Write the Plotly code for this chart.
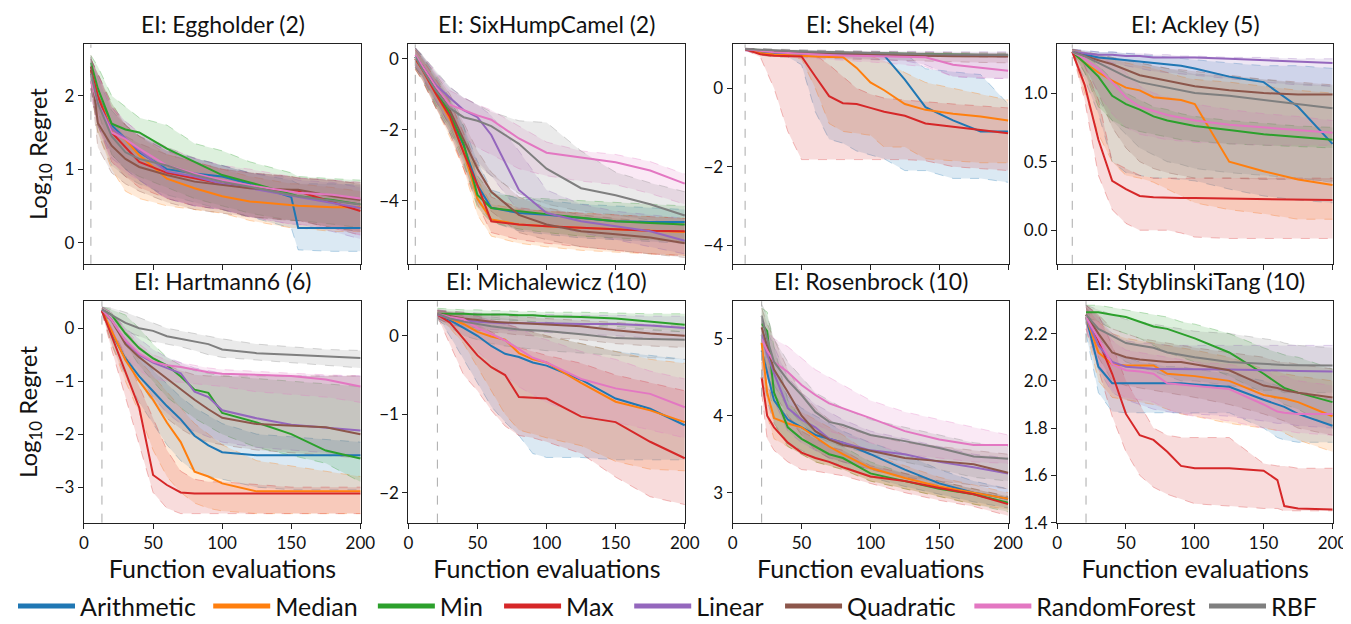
import plotly.graph_objects as go

SERIES = ["Arithmetic", "Median", "Min", "Max", "Linear", "Quadratic", "RandomForest", "RBF"]
COLORS = ["#1f77b4", "#ff7f0e", "#2ca02c", "#d62728", "#9467bd", "#8c564b", "#e377c2", "#7f7f7f"]

TITLES = ["EI: Eggholder (2)", "EI: SixHumpCamel (2)", "EI: Shekel (4)", "EI: Ackley (5)",
          "EI: Hartmann6 (6)", "EI: Michalewicz (10)", "EI: Rosenbrock (10)", "EI: StyblinskiTang (10)"]
INIT = [5, 5, 9, 11, 13, 21, 21, 21]
YRANGES = [[-0.29, 2.70], [-5.78, 0.40], [-4.48, 1.12], [-0.245, 1.355],
           [-3.67, 0.51], [-2.38, 0.44], [2.61, 5.49], [1.40, 2.337]]
YTICKS = [[0, 1, 2], [-4, -2, 0], [-4, -2, 0], [0.0, 0.5, 1.0],
          [-3, -2, -1, 0], [-2, -1, 0], [3, 4, 5], [1.4, 1.6, 1.8, 2.0, 2.2]]
XTICKS = [0, 50, 100, 150, 200]

# ---------------- Eggholder (2) ----------------
egg_x = [5, 10, 20, 30, 40, 60, 80, 100, 120, 150, 155, 180, 200]
egg_mid = [
    [2.30, 2.00, 1.60, 1.41, 1.23, 1.00, 0.94, 0.90, 0.80, 0.62, 0.20, 0.20, 0.20],
    [2.35, 2.00, 1.55, 1.40, 1.19, 0.87, 0.74, 0.63, 0.56, 0.50, 0.50, 0.48, 0.48],
    [2.45, 2.10, 1.62, 1.54, 1.50, 1.28, 1.10, 0.92, 0.82, 0.65, 0.63, 0.58, 0.52],
    [2.35, 2.00, 1.50, 1.30, 1.10, 0.95, 0.87, 0.80, 0.75, 0.70, 0.70, 0.55, 0.43],
    [2.30, 1.90, 1.55, 1.42, 1.25, 0.97, 0.90, 0.80, 0.74, 0.64, 0.62, 0.54, 0.47],
    [2.40, 1.63, 1.32, 1.14, 1.03, 0.92, 0.83, 0.79, 0.74, 0.72, 0.72, 0.63, 0.58],
    [2.20, 1.90, 1.50, 1.41, 1.28, 1.05, 0.94, 0.85, 0.78, 0.70, 0.68, 0.65, 0.60],
    [2.30, 1.90, 1.45, 1.23, 1.14, 1.05, 0.92, 0.83, 0.76, 0.65, 0.63, 0.57, 0.52],
]
egg_lo = [
    [2.10, 1.60, 1.20, 1.00, 0.85, 0.60, 0.50, 0.45, 0.35, 0.20, -0.10, -0.12, -0.12],
    [2.10, 1.50, 1.00, 0.70, 0.60, 0.50, 0.45, 0.40, 0.30, 0.20, 0.20, 0.15, 0.15],
    [2.20, 1.80, 1.20, 1.00, 0.90, 0.75, 0.60, 0.50, 0.40, 0.30, 0.30, 0.25, 0.20],
    [2.10, 1.60, 1.10, 0.90, 0.75, 0.60, 0.50, 0.45, 0.35, 0.30, 0.30, 0.20, 0.15],
    [2.10, 1.60, 1.15, 1.00, 0.85, 0.60, 0.50, 0.45, 0.35, 0.25, 0.25, 0.15, 0.05],
    [2.20, 1.30, 0.95, 0.80, 0.70, 0.55, 0.45, 0.40, 0.35, 0.30, 0.30, 0.20, 0.10],
    [2.00, 1.60, 1.10, 0.95, 0.85, 0.60, 0.50, 0.45, 0.35, 0.25, 0.25, 0.20, 0.10],
    [2.10, 1.50, 1.05, 0.90, 0.80, 0.65, 0.55, 0.45, 0.35, 0.30, 0.30, 0.20, 0.15],
]
egg_hi = [
    [2.50, 2.30, 1.90, 1.60, 1.45, 1.25, 1.15, 1.05, 0.95, 0.85, 0.80, 0.80, 0.78],
    [2.50, 2.30, 1.90, 1.60, 1.45, 1.20, 1.10, 1.00, 0.90, 0.80, 0.80, 0.75, 0.70],
    [2.55, 2.40, 2.00, 1.85, 1.70, 1.60, 1.35, 1.25, 1.10, 0.95, 0.90, 0.87, 0.85],
    [2.50, 2.30, 1.85, 1.60, 1.45, 1.25, 1.10, 1.00, 0.95, 0.90, 0.88, 0.85, 0.80],
    [2.50, 2.30, 1.85, 1.65, 1.50, 1.25, 1.15, 1.05, 0.95, 0.88, 0.85, 0.82, 0.75],
    [2.55, 2.00, 1.65, 1.45, 1.35, 1.20, 1.10, 1.00, 0.95, 0.90, 0.88, 0.85, 0.82],
    [2.45, 2.30, 1.85, 1.65, 1.50, 1.30, 1.15, 1.05, 1.00, 0.90, 0.88, 0.85, 0.82],
    [2.50, 2.25, 1.80, 1.60, 1.45, 1.30, 1.15, 1.05, 0.95, 0.90, 0.88, 0.85, 0.80],
]

# ---------------- SixHumpCamel (2) ----------------
six_x = [5, 10, 20, 30, 40, 50, 60, 80, 100, 125, 150, 175, 200]
six_mid = [
    [0.05, -0.25, -0.95, -1.63, -2.46, -3.57, -4.20, -4.35, -4.40, -4.50, -4.58, -4.60, -4.60],
    [0.00, -0.30, -1.00, -1.70, -2.60, -3.94, -4.53, -4.67, -4.72, -4.77, -4.80, -4.85, -4.88],
    [0.05, -0.20, -0.90, -1.55, -2.40, -3.84, -4.21, -4.30, -4.38, -4.48, -4.58, -4.63, -4.67],
    [0.00, -0.30, -1.00, -1.63, -2.65, -3.57, -4.58, -4.67, -4.72, -4.76, -4.80, -4.85, -4.86],
    [0.05, -0.20, -0.75, -1.10, -1.45, -1.65, -2.15, -3.70, -4.35, -4.58, -4.72, -4.86, -5.13],
    [0.05, -0.20, -0.80, -1.45, -2.28, -3.10, -3.75, -4.40, -4.67, -4.86, -4.95, -5.04, -5.20],
    [0.10, -0.20, -0.80, -1.30, -1.45, -1.60, -1.72, -2.25, -2.65, -2.78, -2.92, -3.15, -3.52],
    [0.05, -0.30, -0.90, -1.40, -1.65, -1.75, -1.90, -2.40, -3.10, -3.65, -3.85, -4.10, -4.42],
]
six_lo = [
    [-0.25, -0.55, -1.35, -2.10, -3.00, -4.00, -4.60, -4.85, -4.95, -5.05, -5.10, -5.15, -5.20],
    [-0.30, -0.60, -1.40, -2.20, -3.10, -4.40, -5.00, -5.20, -5.30, -5.40, -5.45, -5.50, -5.55],
    [-0.25, -0.50, -1.30, -2.00, -2.90, -4.20, -4.60, -4.80, -4.90, -5.00, -5.05, -5.10, -5.15],
    [-0.30, -0.60, -1.40, -2.10, -3.10, -4.10, -4.90, -5.10, -5.20, -5.30, -5.40, -5.50, -5.55],
    [-0.20, -0.50, -1.20, -1.90, -2.40, -2.90, -3.30, -4.30, -4.70, -4.90, -5.10, -5.30, -5.50],
    [-0.25, -0.50, -1.20, -1.90, -2.80, -3.70, -4.30, -4.90, -5.10, -5.30, -5.40, -5.50, -5.60],
    [-0.20, -0.50, -1.20, -1.80, -2.20, -2.50, -2.70, -3.10, -3.30, -3.45, -3.55, -3.80, -4.10],
    [-0.30, -0.60, -1.40, -2.10, -2.60, -3.00, -3.30, -3.80, -4.10, -4.30, -4.40, -4.55, -4.70],
]
six_hi = [
    [0.30, 0.05, -0.55, -1.15, -1.90, -2.90, -3.70, -3.95, -4.00, -4.10, -4.15, -4.20, -4.25],
    [0.25, 0.00, -0.60, -1.20, -2.10, -3.40, -4.10, -4.25, -4.30, -4.35, -4.40, -4.45, -4.50],
    [0.30, 0.10, -0.50, -1.10, -1.90, -3.30, -3.80, -3.90, -3.95, -4.00, -4.05, -4.10, -4.15],
    [0.25, 0.00, -0.60, -1.20, -2.10, -3.00, -3.90, -4.20, -4.30, -4.35, -4.40, -4.45, -4.50],
    [0.30, 0.10, -0.40, -0.80, -1.10, -1.30, -1.60, -2.60, -3.70, -4.10, -4.30, -4.40, -4.50],
    [0.30, 0.05, -0.45, -1.00, -1.80, -2.60, -3.20, -3.90, -4.20, -4.40, -4.50, -4.60, -4.70],
    [0.30, 0.10, -0.40, -0.90, -1.10, -1.30, -1.45, -1.90, -2.35, -2.60, -2.70, -2.90, -3.25],
    [0.30, 0.10, -0.35, -0.80, -1.10, -1.30, -1.50, -1.75, -1.80, -2.60, -3.20, -3.50, -3.75],
]

# ---------------- Shekel (4) ----------------
she_x = [9, 20, 30, 40, 50, 60, 70, 80, 90, 100, 110, 125, 140, 160, 180, 200]
she_mid = [
    [1.00, 0.92, 0.90, 0.89, 0.88, 0.87, 0.86, 0.86, 0.86, 0.86, 0.84, 0.22, -0.48, -0.82, -1.10, -1.10],
    [1.00, 0.90, 0.86, 0.84, 0.82, 0.81, 0.80, 0.80, 0.52, 0.15, -0.05, -0.40, -0.55, -0.65, -0.72, -0.82],
    [1.00, 0.97, 0.95, 0.94, 0.93, 0.92, 0.91, 0.90, 0.90, 0.89, 0.89, 0.88, 0.87, 0.86, 0.85, 0.85],
    [1.00, 0.87, 0.83, 0.82, 0.81, 0.30, -0.20, -0.38, -0.40, -0.50, -0.60, -0.70, -0.90, -0.98, -1.07, -1.15],
    [1.00, 0.96, 0.94, 0.93, 0.92, 0.91, 0.90, 0.89, 0.88, 0.88, 0.87, 0.86, 0.85, 0.84, 0.83, 0.82],
    [1.00, 0.96, 0.94, 0.92, 0.91, 0.90, 0.89, 0.88, 0.87, 0.86, 0.85, 0.84, 0.83, 0.82, 0.82, 0.81],
    [1.00, 0.95, 0.92, 0.90, 0.88, 0.86, 0.85, 0.84, 0.83, 0.82, 0.81, 0.80, 0.79, 0.60, 0.52, 0.45],
    [1.00, 0.98, 0.96, 0.95, 0.94, 0.93, 0.92, 0.91, 0.90, 0.90, 0.89, 0.88, 0.87, 0.86, 0.86, 0.85],
]
she_lo = [
    [0.98, 0.85, 0.80, 0.80, 0.60, -0.60, -1.30, -1.40, -1.60, -1.70, -1.80, -2.10, -2.10, -2.30, -2.30, -2.40],
    [0.98, 0.85, 0.80, 0.80, 0.75, 0.00, -0.90, -1.10, -1.15, -1.20, -1.50, -1.50, -1.80, -1.85, -1.90, -1.90],
    [0.98, 0.93, 0.90, 0.89, 0.88, 0.87, 0.86, 0.85, 0.85, 0.84, 0.84, 0.83, 0.82, 0.81, 0.80, 0.80],
    [0.98, 0.80, 0.00, -1.10, -1.82, -1.82, -1.82, -1.82, -1.82, -1.82, -1.82, -1.82, -1.85, -2.00, -2.05, -2.10],
    [0.95, 0.90, 0.88, 0.86, 0.84, 0.82, 0.80, 0.78, 0.76, 0.74, 0.72, 0.70, 0.60, 0.30, 0.25, 0.25],
    [0.97, 0.90, 0.85, 0.82, 0.80, 0.78, 0.76, 0.75, 0.74, 0.73, 0.72, 0.71, 0.70, 0.68, 0.66, 0.65],
    [0.95, 0.88, 0.84, 0.80, 0.78, 0.76, 0.74, 0.72, 0.70, 0.68, 0.65, 0.60, 0.55, 0.30, 0.28, 0.25],
    [0.98, 0.95, 0.93, 0.92, 0.91, 0.90, 0.89, 0.88, 0.87, 0.86, 0.85, 0.84, 0.83, 0.82, 0.81, 0.80],
]
she_hi = [
    [1.02, 0.96, 0.95, 0.94, 0.93, 0.92, 0.92, 0.91, 0.90, 0.90, 0.90, 0.88, 0.50, 0.42, 0.35, -0.40],
    [1.02, 0.95, 0.92, 0.90, 0.90, 0.90, 0.90, 0.88, 0.85, 0.82, 0.70, 0.40, 0.15, 0.00, -0.15, -0.30],
    [1.02, 1.00, 0.98, 0.97, 0.96, 0.95, 0.94, 0.93, 0.93, 0.92, 0.92, 0.91, 0.90, 0.89, 0.88, 0.88],
    [1.02, 0.92, 0.90, 0.88, 0.87, 0.85, 0.60, 0.30, 0.00, -0.15, -0.25, -0.30, -0.35, -0.40, -0.45, -0.50],
    [1.02, 1.00, 0.99, 0.98, 0.97, 0.96, 0.96, 0.95, 0.95, 0.95, 0.95, 0.94, 0.94, 0.93, 0.93, 0.93],
    [1.02, 1.00, 0.98, 0.97, 0.96, 0.95, 0.95, 0.94, 0.94, 0.93, 0.93, 0.92, 0.92, 0.91, 0.91, 0.90],
    [1.02, 0.98, 0.96, 0.95, 0.94, 0.93, 0.92, 0.91, 0.90, 0.90, 0.90, 0.89, 0.88, 0.85, 0.80, 0.80],
    [1.02, 1.01, 1.00, 0.99, 0.98, 0.97, 0.96, 0.95, 0.95, 0.94, 0.93, 0.92, 0.91, 0.90, 0.90, 0.90],
]

# ---------------- Ackley (5) ----------------
ack_x = [11, 20, 30, 40, 50, 60, 70, 80, 90, 100, 125, 150, 175, 200]
ack_mid = [
    [1.30, 1.28, 1.26, 1.25, 1.24, 1.23, 1.22, 1.21, 1.20, 1.18, 1.12, 1.08, 0.90, 0.63],
    [1.30, 1.22, 1.15, 1.09, 1.04, 1.02, 0.97, 0.96, 0.95, 0.92, 0.50, 0.43, 0.37, 0.33],
    [1.30, 1.22, 1.12, 0.98, 0.92, 0.88, 0.83, 0.80, 0.78, 0.76, 0.73, 0.70, 0.68, 0.66],
    [1.30, 1.06, 0.66, 0.36, 0.30, 0.25, 0.24, 0.235, 0.235, 0.235, 0.23, 0.225, 0.22, 0.22],
    [1.30, 1.29, 1.28, 1.28, 1.27, 1.27, 1.26, 1.26, 1.26, 1.26, 1.25, 1.24, 1.23, 1.22],
    [1.30, 1.27, 1.24, 1.21, 1.17, 1.13, 1.11, 1.09, 1.07, 1.05, 1.02, 1.00, 0.99, 0.99],
    [1.30, 1.25, 1.18, 1.08, 0.97, 0.90, 0.87, 0.84, 0.82, 0.80, 0.77, 0.75, 0.73, 0.71],
    [1.30, 1.27, 1.22, 1.17, 1.12, 1.08, 1.06, 1.04, 1.02, 1.00, 0.98, 0.95, 0.92, 0.89],
]
ack_lo = [
    [1.30, 1.10, 0.85, 0.50, 0.42, 0.40, 0.38, 0.38, 0.37, 0.36, 0.30, 0.25, 0.22, 0.20],
    [1.30, 1.00, 0.70, 0.50, 0.40, 0.38, 0.35, 0.30, 0.25, 0.20, 0.15, 0.12, 0.08, 0.08],
    [1.30, 1.15, 0.90, 0.80, 0.75, 0.72, 0.70, 0.68, 0.66, 0.65, 0.63, 0.62, 0.61, 0.60],
    [1.30, 0.95, 0.40, 0.15, 0.05, 0.00, 0.00, 0.00, -0.02, -0.05, -0.06, -0.06, -0.06, -0.06],
    [1.30, 1.27, 1.25, 1.22, 1.20, 1.18, 1.16, 1.15, 1.14, 1.13, 1.10, 1.08, 1.06, 1.05],
    [1.30, 1.20, 1.00, 0.75, 0.60, 0.50, 0.45, 0.42, 0.40, 0.38, 0.38, 0.37, 0.37, 0.36],
    [1.30, 1.20, 1.00, 0.85, 0.75, 0.70, 0.68, 0.66, 0.65, 0.64, 0.63, 0.62, 0.62, 0.62],
    [1.30, 1.15, 0.95, 0.80, 0.70, 0.60, 0.55, 0.50, 0.48, 0.45, 0.42, 0.40, 0.38, 0.35],
]
ack_hi = [
    [1.32, 1.31, 1.30, 1.30, 1.29, 1.28, 1.27, 1.26, 1.25, 1.24, 1.22, 1.20, 1.20, 1.18],
    [1.32, 1.30, 1.28, 1.25, 1.22, 1.20, 1.18, 1.15, 1.12, 1.10, 1.08, 1.05, 1.02, 1.00],
    [1.32, 1.28, 1.20, 1.10, 1.00, 0.95, 0.90, 0.88, 0.85, 0.83, 0.80, 0.78, 0.76, 0.75],
    [1.32, 1.20, 0.95, 0.50, 0.45, 0.40, 0.38, 0.38, 0.38, 0.38, 0.38, 0.38, 0.38, 0.38],
    [1.32, 1.31, 1.30, 1.30, 1.29, 1.29, 1.28, 1.28, 1.27, 1.27, 1.26, 1.26, 1.25, 1.25],
    [1.32, 1.30, 1.28, 1.26, 1.24, 1.22, 1.20, 1.18, 1.17, 1.16, 1.13, 1.10, 1.08, 1.06],
    [1.32, 1.30, 1.27, 1.22, 1.15, 1.05, 1.00, 0.97, 0.95, 0.92, 0.88, 0.85, 0.83, 0.80],
    [1.32, 1.30, 1.28, 1.26, 1.24, 1.22, 1.20, 1.18, 1.16, 1.14, 1.12, 1.10, 1.07, 1.05],
]

# ---------------- Hartmann6 (6) ----------------
har_x = [13, 20, 30, 40, 50, 60, 70, 80, 90, 100, 125, 150, 175, 200]
har_mid = [
    [0.33, -0.10, -0.57, -0.91, -1.19, -1.47, -1.72, -2.03, -2.21, -2.34, -2.40, -2.40, -2.40, -2.40],
    [0.33, -0.05, -0.60, -1.00, -1.35, -1.78, -2.15, -2.71, -2.80, -2.93, -3.08, -3.08, -3.08, -3.08],
    [0.35, 0.25, -0.10, -0.38, -0.57, -0.70, -0.91, -1.16, -1.22, -1.60, -1.78, -2.00, -2.31, -2.46],
    [0.33, -0.15, -0.80, -1.50, -2.77, -2.96, -3.10, -3.12, -3.12, -3.12, -3.12, -3.12, -3.12, -3.12],
    [0.35, 0.15, -0.25, -0.50, -0.65, -0.75, -0.85, -1.20, -1.30, -1.55, -1.70, -1.82, -1.87, -1.93],
    [0.35, 0.15, -0.30, -0.55, -0.75, -0.95, -1.16, -1.35, -1.53, -1.69, -1.81, -1.84, -1.87, -2.00],
    [0.35, 0.15, -0.23, -0.48, -0.63, -0.70, -0.73, -0.78, -0.83, -0.86, -0.88, -0.90, -0.97, -1.10],
    [0.35, 0.25, 0.10, 0.00, -0.05, -0.15, -0.20, -0.25, -0.30, -0.40, -0.47, -0.50, -0.53, -0.56],
]
har_lo = [
    [0.30, -0.30, -0.90, -1.40, -1.80, -2.20, -2.50, -2.70, -2.80, -2.85, -3.00, -3.05, -3.05, -3.05],
    [0.30, -0.30, -1.00, -1.60, -2.30, -2.80, -3.10, -3.30, -3.40, -3.45, -3.50, -3.50, -3.50, -3.50],
    [0.30, 0.10, -0.30, -0.70, -1.00, -1.30, -1.50, -1.70, -1.85, -2.00, -2.25, -2.40, -2.55, -2.90],
    [0.30, -0.40, -1.30, -2.20, -3.10, -3.40, -3.50, -3.50, -3.50, -3.50, -3.50, -3.50, -3.50, -3.50],
    [0.30, -0.10, -0.50, -0.90, -1.30, -1.60, -1.80, -1.95, -2.05, -2.15, -2.25, -2.30, -2.35, -2.40],
    [0.30, -0.10, -0.60, -1.00, -1.40, -1.70, -1.90, -2.05, -2.15, -2.20, -2.30, -2.35, -2.40, -2.45],
    [0.30, 0.00, -0.50, -0.80, -0.95, -1.00, -1.02, -1.05, -1.08, -1.10, -1.20, -1.25, -1.30, -1.40],
    [0.30, 0.10, -0.05, -0.15, -0.25, -0.30, -0.35, -0.42, -0.50, -0.55, -0.60, -0.65, -0.70, -0.75],
]
har_hi = [
    [0.38, 0.15, -0.20, -0.50, -0.80, -1.05, -1.30, -1.50, -1.65, -1.80, -2.00, -2.05, -2.10, -2.15],
    [0.38, 0.10, -0.30, -0.60, -0.90, -1.20, -1.50, -1.80, -2.00, -2.20, -2.50, -2.60, -2.70, -2.80],
    [0.40, 0.35, 0.25, 0.00, -0.30, -0.55, -0.70, -0.80, -0.85, -0.90, -0.95, -1.00, -1.05, -1.10],
    [0.38, 0.00, -0.50, -1.10, -1.70, -2.30, -2.70, -2.85, -2.90, -2.90, -2.95, -3.00, -3.00, -3.00],
    [0.40, 0.30, 0.00, -0.20, -0.40, -0.55, -0.65, -0.75, -0.80, -0.85, -0.88, -0.90, -0.90, -0.90],
    [0.40, 0.30, -0.05, -0.35, -0.55, -0.70, -0.80, -0.88, -0.90, -0.90, -0.90, -0.90, -0.90, -0.90],
    [0.40, 0.30, 0.00, -0.30, -0.50, -0.60, -0.65, -0.70, -0.75, -0.78, -0.82, -0.85, -0.88, -0.90],
    [0.40, 0.38, 0.30, 0.20, 0.10, 0.00, -0.05, -0.10, -0.15, -0.20, -0.30, -0.35, -0.40, -0.42],
]

# ---------------- Michalewicz (10) ----------------
mic_x = [21, 30, 40, 50, 60, 70, 80, 90, 100, 125, 150, 175, 200]
mic_mid = [
    [0.28, 0.20, 0.10, 0.00, -0.13, -0.23, -0.27, -0.34, -0.38, -0.56, -0.80, -0.93, -1.14],
    [0.28, 0.22, 0.15, 0.05, -0.01, -0.05, -0.22, -0.30, -0.34, -0.60, -0.84, -0.95, -1.10],
    [0.28, 0.28, 0.28, 0.27, 0.27, 0.27, 0.26, 0.26, 0.25, 0.24, 0.22, 0.18, 0.14],
    [0.27, 0.17, -0.04, -0.25, -0.40, -0.50, -0.78, -0.79, -0.80, -1.03, -1.10, -1.35, -1.56],
    [0.27, 0.22, 0.20, 0.18, 0.17, 0.16, 0.16, 0.16, 0.16, 0.15, 0.15, 0.13, 0.10],
    [0.28, 0.25, 0.22, 0.20, 0.18, 0.17, 0.16, 0.15, 0.14, 0.12, 0.07, 0.03, 0.00],
    [0.28, 0.24, 0.21, 0.10, 0.02, -0.06, -0.17, -0.28, -0.34, -0.55, -0.67, -0.74, -0.91],
    [0.28, 0.22, 0.18, 0.15, 0.12, 0.10, 0.08, 0.07, 0.06, 0.02, -0.03, -0.04, -0.05],
]
mic_lo = [
    [0.25, 0.00, -0.30, -0.60, -0.90, -1.10, -1.27, -1.50, -1.55, -1.55, -1.58, -1.58, -1.58],
    [0.25, 0.10, -0.10, -0.40, -0.70, -1.00, -1.20, -1.25, -1.30, -1.40, -1.60, -1.70, -1.72],
    [0.25, 0.24, 0.23, 0.22, 0.21, 0.20, 0.19, 0.18, 0.17, 0.15, 0.12, 0.08, 0.05],
    [0.25, -0.10, -0.50, -0.70, -0.95, -1.15, -1.27, -1.30, -1.35, -1.50, -1.80, -2.05, -2.15],
    [0.22, 0.15, 0.12, 0.10, 0.08, 0.07, 0.06, 0.05, 0.04, 0.02, 0.00, -0.03, -0.05],
    [0.22, 0.15, 0.10, 0.07, 0.05, 0.03, 0.01, 0.00, -0.02, -0.05, -0.10, -0.13, -0.15],
    [0.25, 0.15, 0.00, -0.20, -0.35, -0.50, -0.65, -0.75, -0.85, -1.00, -1.10, -1.20, -1.30],
    [0.20, 0.10, 0.00, -0.05, -0.10, -0.13, -0.15, -0.17, -0.19, -0.22, -0.25, -0.28, -0.30],
]
mic_hi = [
    [0.32, 0.30, 0.28, 0.25, 0.20, 0.15, 0.10, 0.05, 0.00, -0.10, -0.20, -0.25, -0.30],
    [0.32, 0.30, 0.28, 0.25, 0.20, 0.15, 0.10, 0.05, 0.00, -0.10, -0.20, -0.30, -0.35],
    [0.35, 0.34, 0.33, 0.33, 0.32, 0.32, 0.31, 0.31, 0.30, 0.30, 0.29, 0.28, 0.28],
    [0.32, 0.30, 0.25, 0.15, 0.05, -0.05, -0.15, -0.20, -0.25, -0.35, -0.50, -0.60, -0.70],
    [0.33, 0.31, 0.30, 0.29, 0.28, 0.28, 0.27, 0.27, 0.27, 0.26, 0.26, 0.25, 0.25],
    [0.33, 0.32, 0.30, 0.28, 0.26, 0.25, 0.24, 0.23, 0.22, 0.20, 0.17, 0.14, 0.12],
    [0.32, 0.30, 0.28, 0.25, 0.20, 0.15, 0.10, 0.00, -0.05, -0.20, -0.30, -0.45, -0.55],
    [0.32, 0.30, 0.28, 0.26, 0.24, 0.22, 0.20, 0.18, 0.17, 0.14, 0.10, 0.07, 0.05],
]

# ---------------- Rosenbrock (10) ----------------
ros_x = [21, 25, 30, 40, 50, 60, 70, 80, 100, 125, 150, 175, 200]
ros_mid = [
    [4.85, 4.55, 4.20, 3.95, 3.85, 3.75, 3.70, 3.65, 3.50, 3.30, 3.12, 3.00, 2.92],
    [4.95, 4.30, 3.97, 3.90, 3.85, 3.72, 3.60, 3.50, 3.32, 3.19, 3.08, 3.00, 2.92],
    [5.20, 5.10, 4.30, 3.85, 3.70, 3.60, 3.50, 3.45, 3.25, 3.15, 3.05, 2.98, 2.87],
    [4.50, 4.00, 3.85, 3.65, 3.52, 3.45, 3.40, 3.33, 3.21, 3.15, 3.06, 2.98, 2.85],
    [5.05, 4.80, 4.55, 4.10, 3.95, 3.85, 3.70, 3.65, 3.55, 3.50, 3.40, 3.33, 3.25],
    [5.15, 4.90, 4.60, 4.31, 4.00, 3.80, 3.69, 3.62, 3.54, 3.45, 3.41, 3.37, 3.26],
    [5.00, 4.85, 4.70, 4.57, 4.40, 4.27, 4.16, 4.10, 3.97, 3.80, 3.69, 3.62, 3.62],
    [5.30, 5.00, 4.70, 4.46, 4.27, 4.05, 3.92, 3.88, 3.75, 3.67, 3.58, 3.47, 3.44],
]
ros_lo = [
    [4.60, 4.20, 3.90, 3.65, 3.55, 3.45, 3.40, 3.35, 3.20, 3.08, 2.98, 2.88, 2.80],
    [4.70, 4.00, 3.70, 3.60, 3.50, 3.40, 3.35, 3.30, 3.15, 3.05, 2.95, 2.85, 2.78],
    [5.00, 4.60, 3.90, 3.60, 3.50, 3.40, 3.35, 3.30, 3.15, 3.05, 2.95, 2.85, 2.75],
    [4.30, 3.70, 3.55, 3.40, 3.30, 3.28, 3.25, 3.22, 3.12, 3.00, 2.90, 2.82, 2.70],
    [4.80, 4.50, 4.20, 3.80, 3.65, 3.55, 3.45, 3.40, 3.30, 3.20, 3.10, 3.00, 2.90],
    [4.90, 4.60, 4.30, 4.00, 3.75, 3.55, 3.45, 3.40, 3.30, 3.20, 3.15, 3.10, 3.05],
    [4.80, 4.60, 4.40, 4.20, 4.00, 3.90, 3.80, 3.75, 3.65, 3.50, 3.45, 3.40, 3.38],
    [5.10, 4.70, 4.40, 4.10, 3.90, 3.75, 3.65, 3.60, 3.50, 3.40, 3.30, 3.20, 3.15],
]
ros_hi = [
    [5.20, 4.90, 4.60, 4.25, 4.10, 4.00, 3.90, 3.80, 3.65, 3.50, 3.30, 3.15, 3.05],
    [5.20, 4.80, 4.40, 4.15, 4.05, 3.95, 3.85, 3.75, 3.50, 3.35, 3.20, 3.10, 3.00],
    [5.40, 5.35, 4.90, 4.20, 3.95, 3.80, 3.70, 3.60, 3.40, 3.25, 3.15, 3.05, 2.95],
    [4.80, 4.40, 4.20, 4.00, 3.80, 3.70, 3.60, 3.55, 3.35, 3.25, 3.15, 3.05, 2.95],
    [5.30, 5.10, 4.90, 4.50, 4.30, 4.15, 4.05, 3.95, 3.80, 3.70, 3.60, 3.50, 3.45],
    [5.40, 5.20, 5.00, 4.60, 4.30, 4.10, 3.95, 3.85, 3.75, 3.65, 3.60, 3.55, 3.50],
    [5.25, 5.10, 5.00, 4.90, 4.75, 4.60, 4.50, 4.40, 4.20, 4.05, 3.95, 3.85, 3.75],
    [5.45, 5.30, 5.00, 4.70, 4.50, 4.30, 4.20, 4.10, 3.95, 3.85, 3.75, 3.65, 3.60],
]

# ---------------- StyblinskiTang (10) ----------------
sty_x = [21, 30, 40, 50, 60, 70, 80, 90, 100, 125, 150, 160, 165, 175, 200]
sty_mid = [
    [2.27, 2.06, 1.99, 1.99, 1.99, 1.99, 1.99, 1.99, 1.985, 1.975, 1.92, 1.90, 1.89, 1.86, 1.81],
    [2.27, 2.12, 2.07, 2.065, 2.065, 2.065, 2.03, 2.025, 2.02, 2.00, 1.94, 1.93, 1.925, 1.91, 1.85],
    [2.29, 2.29, 2.28, 2.27, 2.25, 2.23, 2.22, 2.20, 2.18, 2.12, 2.03, 1.99, 1.97, 1.95, 1.91],
    [2.28, 2.17, 2.03, 1.86, 1.77, 1.75, 1.70, 1.64, 1.63, 1.63, 1.62, 1.58, 1.47, 1.46, 1.455],
    [2.27, 2.15, 2.08, 2.06, 2.055, 2.05, 2.05, 2.05, 2.05, 2.048, 2.045, 2.045, 2.043, 2.042, 2.04],
    [2.28, 2.20, 2.12, 2.10, 2.09, 2.085, 2.08, 2.08, 2.07, 2.045, 1.98, 1.97, 1.96, 1.95, 1.93],
    [2.27, 2.18, 2.07, 2.045, 2.04, 2.03, 1.99, 1.985, 1.98, 1.965, 1.90, 1.87, 1.865, 1.86, 1.86],
    [2.28, 2.22, 2.19, 2.16, 2.15, 2.14, 2.12, 2.11, 2.10, 2.08, 2.07, 2.068, 2.067, 2.066, 2.065],
]
sty_lo = [
    [2.20, 1.95, 1.87, 1.865, 1.865, 1.865, 1.865, 1.865, 1.865, 1.865, 1.80, 1.76, 1.75, 1.74, 1.74],
    [2.22, 2.00, 1.93, 1.92, 1.91, 1.90, 1.88, 1.86, 1.85, 1.82, 1.80, 1.79, 1.78, 1.75, 1.70],
    [2.27, 2.25, 2.22, 2.20, 2.18, 2.15, 2.12, 2.10, 2.08, 2.02, 1.95, 1.92, 1.90, 1.88, 1.80],
    [2.25, 2.05, 1.85, 1.70, 1.60, 1.55, 1.52, 1.50, 1.48, 1.47, 1.46, 1.46, 1.45, 1.45, 1.45],
    [2.22, 2.05, 1.95, 1.92, 1.90, 1.88, 1.87, 1.86, 1.86, 1.85, 1.83, 1.82, 1.82, 1.81, 1.80],
    [2.25, 2.10, 2.00, 1.98, 1.97, 1.96, 1.95, 1.94, 1.93, 1.90, 1.86, 1.84, 1.83, 1.80, 1.77],
    [2.22, 2.08, 1.96, 1.93, 1.92, 1.91, 1.88, 1.86, 1.85, 1.83, 1.80, 1.79, 1.79, 1.78, 1.77],
    [2.25, 2.18, 2.12, 2.08, 2.06, 2.04, 2.02, 2.00, 2.00, 1.98, 1.96, 1.96, 1.95, 1.95, 1.95],
]
sty_hi = [
    [2.31, 2.20, 2.12, 2.10, 2.08, 2.07, 2.06, 2.06, 2.05, 2.03, 2.00, 1.98, 1.97, 1.95, 1.92],
    [2.31, 2.25, 2.20, 2.18, 2.17, 2.16, 2.15, 2.14, 2.13, 2.10, 2.05, 2.04, 2.03, 2.02, 2.00],
    [2.32, 2.32, 2.31, 2.30, 2.29, 2.28, 2.27, 2.25, 2.24, 2.20, 2.14, 2.12, 2.11, 2.10, 2.05],
    [2.32, 2.28, 2.15, 2.00, 1.90, 1.80, 1.77, 1.76, 1.76, 1.76, 1.65, 1.64, 1.64, 1.63, 1.63],
    [2.32, 2.27, 2.20, 2.17, 2.16, 2.16, 2.15, 2.15, 2.15, 2.15, 2.15, 2.15, 2.15, 2.15, 2.15],
    [2.32, 2.28, 2.22, 2.20, 2.18, 2.17, 2.16, 2.15, 2.14, 2.12, 2.10, 2.08, 2.08, 2.07, 2.05],
    [2.31, 2.25, 2.17, 2.13, 2.12, 2.11, 2.10, 2.09, 2.08, 2.07, 2.04, 2.02, 2.02, 2.00, 1.98],
    [2.32, 2.30, 2.28, 2.26, 2.25, 2.24, 2.23, 2.22, 2.21, 2.20, 2.18, 2.17, 2.16, 2.15, 2.14],
]

PANELS = [
    (egg_x, egg_mid, egg_lo, egg_hi),
    (six_x, six_mid, six_lo, six_hi),
    (she_x, she_mid, she_lo, she_hi),
    (ack_x, ack_mid, ack_lo, ack_hi),
    (har_x, har_mid, har_lo, har_hi),
    (mic_x, mic_mid, mic_lo, mic_hi),
    (ros_x, ros_mid, ros_lo, ros_hi),
    (sty_x, sty_mid, sty_lo, sty_hi),
]

# ---------------- layout geometry ----------------
W, H = 1351, 624
FONT = "Lato"
COL_PX = [(72, 353), (401, 682), (730, 1010), (1059, 1339)]
ROW_PX = [(37, 260), (298, 523)]
# left edge (px) of each legend entry along the bottom row
LEGEND_PX = [0, 198, 365, 493, 625, 778, 970, 1208]
AXIS_COLOR = "#222222"


def rgba(hexc, a):
    h = hexc.lstrip("#")
    r, g, b = int(h[0:2], 16), int(h[2:4], 16), int(h[4:6], 16)
    return f"rgba({r},{g},{b},{a})"


fig = go.Figure()
annotations = []
shapes = []
extra_layout = {}

for k in range(8):
    sfx = "" if k == 0 else str(k + 1)
    xa, ya = "x" + sfx, "y" + sfx
    row, col = divmod(k, 4)
    xs, mids, los, his = PANELS[k]

    for s in range(8):
        c = COLORS[s]
        fig.add_trace(go.Scatter(
            x=xs, y=los[s], xaxis=xa, yaxis=ya, mode="lines",
            line=dict(color=rgba(c, 0.30), width=1, dash="dash"),
            showlegend=False, hoverinfo="skip"))
        fig.add_trace(go.Scatter(
            x=xs, y=his[s], xaxis=xa, yaxis=ya, mode="lines",
            line=dict(color=rgba(c, 0.30), width=1, dash="dash"),
            fill="tonexty", fillcolor=rgba(c, 0.16),
            showlegend=False, hoverinfo="skip"))
    for s in range(8):
        fig.add_trace(go.Scatter(
            x=xs, y=mids[s], xaxis=xa, yaxis=ya, mode="lines",
            line=dict(color=COLORS[s], width=2),
            showlegend=False, name=SERIES[s]))

    x0, x1 = COL_PX[col]
    y0, y1 = ROW_PX[row]
    xdom = [x0 / W, x1 / W]
    ydom = [1 - y1 / H, 1 - y0 / H]
    bottom = row == 1
    xax = dict(
        domain=xdom, anchor=ya, range=[0, 200.5],
        tickvals=XTICKS, ticks="outside", ticklen=5, tickwidth=1.2,
        tickcolor=AXIS_COLOR, showticklabels=bottom,
        tickfont=dict(family=FONT, size=17, color="#111"),
        showline=True, linecolor=AXIS_COLOR, linewidth=1.2, mirror=True,
        showgrid=False, zeroline=False,
    )
    if bottom:
        xax["title"] = dict(text="Function evaluations",
                            font=dict(family=FONT, size=25, color="#111"), standoff=4)
    yax = dict(
        domain=ydom, anchor=xa, range=YRANGES[k],
        tickvals=YTICKS[k], ticks="outside", ticklen=5, tickwidth=1.2,
        tickcolor=AXIS_COLOR,
        tickformat=".1f" if k in (3, 7) else "",
        tickfont=dict(family=FONT, size=17, color="#111"),
        showline=True, linecolor=AXIS_COLOR, linewidth=1.2, mirror=True,
        showgrid=False, zeroline=False,
    )
    if col == 0:
        yax["title"] = dict(text="Log<sub>10</sub> Regret",
                            font=dict(family=FONT, size=24, color="#111"), standoff=10)
    extra_layout["xaxis" + sfx] = xax
    extra_layout["yaxis" + sfx] = yax
    annotations.append(dict(
        text=TITLES[k], xref="paper", yref="paper",
        x=(xdom[0] + xdom[1]) / 2, y=ydom[1] + 4 / H,
        xanchor="center", yanchor="bottom", showarrow=False,
        font=dict(family=FONT, size=23, color="#111")))
    shapes.append(dict(
        type="line", xref=xa, yref=ya + " domain",
        x0=INIT[k], x1=INIT[k], y0=0, y1=1,
        line=dict(color="#aaaaaa", width=1, dash="dash")))

# legend: one entry per legend box, placed along the bottom
for s in range(8):
    lg = "legend" if s == 0 else f"legend{s + 1}"
    fig.add_trace(go.Scatter(
        x=[None], y=[None], mode="lines", name=SERIES[s],
        line=dict(color=COLORS[s], width=5), showlegend=True,
        legend=lg, xaxis="x", yaxis="y"))
    extra_layout[lg] = dict(
        orientation="h", x=LEGEND_PX[s] / W, xanchor="left",
        y=1 - 608 / H, yanchor="middle", itemwidth=57,
        font=dict(family=FONT, size=25, color="#111"),
        bgcolor="rgba(0,0,0,0)", borderwidth=0, traceorder="normal")

fig.update_layout(
    width=W, height=H,
    margin=dict(l=0, r=0, t=0, b=0),
    paper_bgcolor="white", plot_bgcolor="white",
    font=dict(family=FONT, color="#111"),
    annotations=annotations, shapes=shapes,
    showlegend=True,
    **extra_layout,
)

fig.write_html("out.html")
